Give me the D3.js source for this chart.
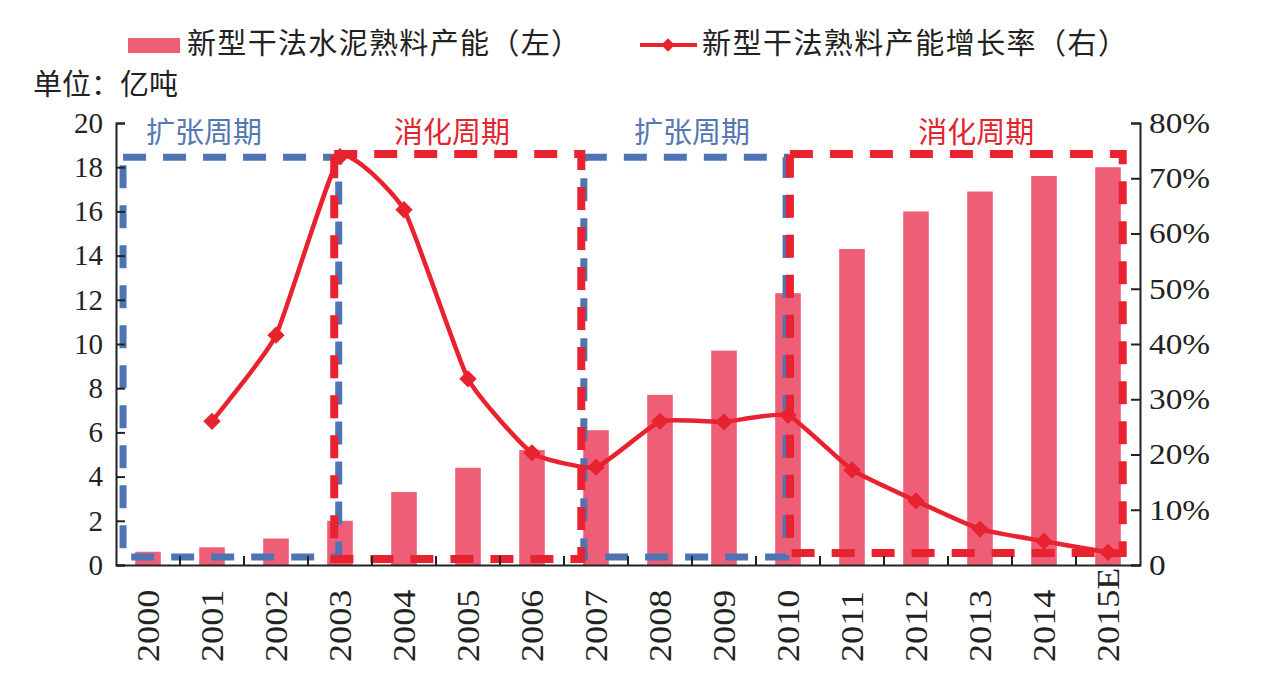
<!DOCTYPE html>
<html>
<head>
<meta charset="utf-8">
<script src="https://cdn.jsdelivr.net/npm/d3@7/dist/d3.min.js"></script>
<style>
  html, body { margin: 0; padding: 0; background: #fff; }
  svg { display: block; }
  .cjk { font-family: "Noto Sans CJK SC", sans-serif; }
  .num { font-family: "Liberation Serif", "DejaVu Serif", serif; }
</style>
</head>
<body>
<div id="chart"></div>
<script>
// ===== DATA =====
const years = ['2000', '2001', '2002', '2003', '2004', '2005', '2006', '2007',
  '2008', '2009', '2010', '2011', '2012', '2013', '2014', '2015E'];
// 新型干法水泥熟料产能 (亿吨)
const capacity = [0.6, 0.8, 1.2, 2.0, 3.3, 4.4, 5.2, 6.1, 7.7, 9.7, 12.3, 14.3, 16.0, 16.9, 17.6, 18.0];
// 产能增长率 (%)
const growth = [null, 26.0, 41.6, 73.9, 64.3, 33.7, 20.3, 17.7, 26.0, 25.9, 27.1, 17.2, 11.6, 6.5, 4.3, 2.3];

const leftTicks = [0, 2, 4, 6, 8, 10, 12, 14, 16, 18, 20];
const rightTicks = [0, 10, 20, 30, 40, 50, 60, 70, 80];

// cycle boxes: name, type, span in category index units, label centre
const periodNames = ['扩张周期', '消化周期', '扩张周期', '消化周期'];
const periodTypes = ['expand', 'digest', 'expand', 'digest'];
const periodFrom = [0.11, 3.41, 7.31, 10.53];
const periodTo = [3.48, 7.27, 10.47, 15.73];
const periodTop = [18.45, 18.6, 18.45, 18.6];
const periodBottom = [0.36, 0.27, 0.36, 0.54];
const periodLabelAt = [1.375, 5.25, 9.0, 13.44];

const legendLabels = ['新型干法水泥熟料产能（左）', '新型干法熟料产能增长率（右）'];

// ===== COLORS =====
const BAR = '#ee5f77';
const LINE = '#e8222e';
const BLUE = '#4f74b3';
const INK = '#222';

const W = 1272, H = 684;
const M = { left: 116, right: 132, top: 123, bottom: 119 };
const iw = W - M.left - M.right;   // 1024
const ih = H - M.top - M.bottom;   // 442

const svg = d3.select('#chart').append('svg')
  .attr('width', W).attr('height', H);

const g = svg.append('g').attr('transform', `translate(${M.left},${M.top})`);

const x = d3.scaleBand().domain(years).range([0, iw]).padding(0);
const xi = d3.scaleLinear().domain([0, years.length]).range([0, iw]);
const yL = d3.scaleLinear().domain([0, 20]).range([ih, 0]);
const yR = d3.scaleLinear().domain([0, 80]).range([ih, 0]);

const barW = x.bandwidth() * 0.4;

// bars
g.append('g').selectAll('rect')
  .data(years)
  .join('rect')
  .attr('x', d => x(d) + (x.bandwidth() - barW) / 2)
  .attr('y', (d, i) => yL(capacity[i]))
  .attr('width', barW)
  .attr('height', (d, i) => ih - yL(capacity[i]))
  .attr('fill', BAR);

// dashed cycle boxes
const boxes = periodNames.map((n, i) => ({
  name: n, type: periodTypes[i],
  x0: xi(periodFrom[i]), x1: xi(periodTo[i]),
  y0: yL(periodTop[i]), y1: yL(periodBottom[i]),
  lx: xi(periodLabelAt[i])
}));

g.append('g').selectAll('rect')
  .data(boxes.filter(b => b.type === 'expand').concat(boxes.filter(b => b.type === 'digest')))
  .join('rect')
  .attr('x', d => d.x0)
  .attr('y', d => d.y0)
  .attr('width', d => d.x1 - d.x0)
  .attr('height', d => d.y1 - d.y0)
  .attr('fill', 'none')
  .attr('stroke', d => d.type === 'expand' ? BLUE : LINE)
  .attr('stroke-width', d => d.type === 'expand' ? 7 : 8)
  .attr('stroke-dasharray', '23 17');

g.append('g').selectAll('text')
  .data(boxes)
  .join('text')
  .attr('class', 'cjk')
  .attr('x', d => d.lx)
  .attr('y', 20)
  .attr('text-anchor', 'middle')
  .attr('font-size', 29)
  .attr('fill', d => d.type === 'expand' ? '#5577b3' : '#e0252f')
  .text(d => d.name);

// growth line
const pts = years.map((d, i) => ({ x: x(d) + x.bandwidth() / 2, v: growth[i] }))
  .filter(p => p.v != null);

g.append('path')
  .datum(pts)
  .attr('fill', 'none')
  .attr('stroke', LINE)
  .attr('stroke-width', 4.5)
  .attr('stroke-linejoin', 'round')
  .attr('d', d3.line().x(p => p.x).y(p => yR(p.v)).curve(d3.curveCardinal.tension(0.55)));

const diamond = d3.symbol().type(d3.symbolSquare).size(150);
g.append('g').selectAll('path')
  .data(pts)
  .join('path')
  .attr('d', diamond)
  .attr('transform', p => `translate(${p.x},${yR(p.v)}) rotate(45)`)
  .attr('fill', LINE);

// axes
const axL = g.append('g')
  .call(d3.axisLeft(yL).tickValues(leftTicks).tickSize(-9).tickPadding(13));
const axR = g.append('g').attr('transform', `translate(${iw},0)`)
  .call(d3.axisRight(yR).tickValues(rightTicks).tickSize(-9).tickPadding(9)
    .tickFormat(v => v === 0 ? '0' : v + '%'));
const axB = g.append('g').attr('transform', `translate(0,${ih})`)
  .call(d3.axisBottom(x).tickSize(0));

[axL, axR, axB].forEach(a => {
  a.select('.domain').attr('stroke', INK).attr('stroke-width', 2);
  a.selectAll('.tick line').attr('stroke', INK).attr('stroke-width', 2);
  a.selectAll('text').attr('class', 'num').attr('fill', INK);
});
axL.selectAll('text').attr('font-size', 29);
axR.selectAll('text')
  .attr('font-size', 29)
  .attr('text-anchor', 'start')
  .attr('x', 0)
  .attr('transform', 'translate(9,0) scale(1.15,1)');
const xStretch = 1.13;
axB.selectAll('text')
  .attr('font-size', 32)
  .attr('text-anchor', 'start')
  .attr('transform', `rotate(-90) scale(${xStretch},1)`)
  .attr('x', -97 / xStretch)
  .attr('y', 0)
  .attr('dy', '0.34em');

// tick marks between categories
axB.append('g').selectAll('line')
  .data(d3.range(1, years.length))
  .join('line')
  .attr('x1', i => xi(i)).attr('x2', i => xi(i))
  .attr('y1', 0).attr('y2', -9)
  .attr('stroke', INK).attr('stroke-width', 2);

// unit label
svg.append('text')
  .attr('class', 'cjk')
  .attr('x', 33).attr('y', 95)
  .attr('font-size', 29)
  .attr('fill', INK)
  .text('单位：亿吨');

// legend
const lg = svg.append('g');
lg.append('rect')
  .attr('x', 128).attr('y', 38).attr('width', 52).attr('height', 15)
  .attr('fill', BAR);
lg.append('text')
  .attr('class', 'cjk')
  .attr('x', 187).attr('y', 54)
  .attr('font-size', 29)
  .attr('fill', INK)
  .attr('textLength', 393)
  .text(legendLabels[0]);

lg.append('line')
  .attr('x1', 640).attr('x2', 697).attr('y1', 45).attr('y2', 45)
  .attr('stroke', LINE).attr('stroke-width', 4);
lg.append('path')
  .attr('d', d3.symbol().type(d3.symbolSquare).size(90))
  .attr('transform', 'translate(668,45) rotate(45)')
  .attr('fill', LINE);
lg.append('text')
  .attr('class', 'cjk')
  .attr('x', 702).attr('y', 54)
  .attr('font-size', 29)
  .attr('fill', INK)
  .attr('textLength', 425)
  .text(legendLabels[1]);
</script>
</body>
</html>
